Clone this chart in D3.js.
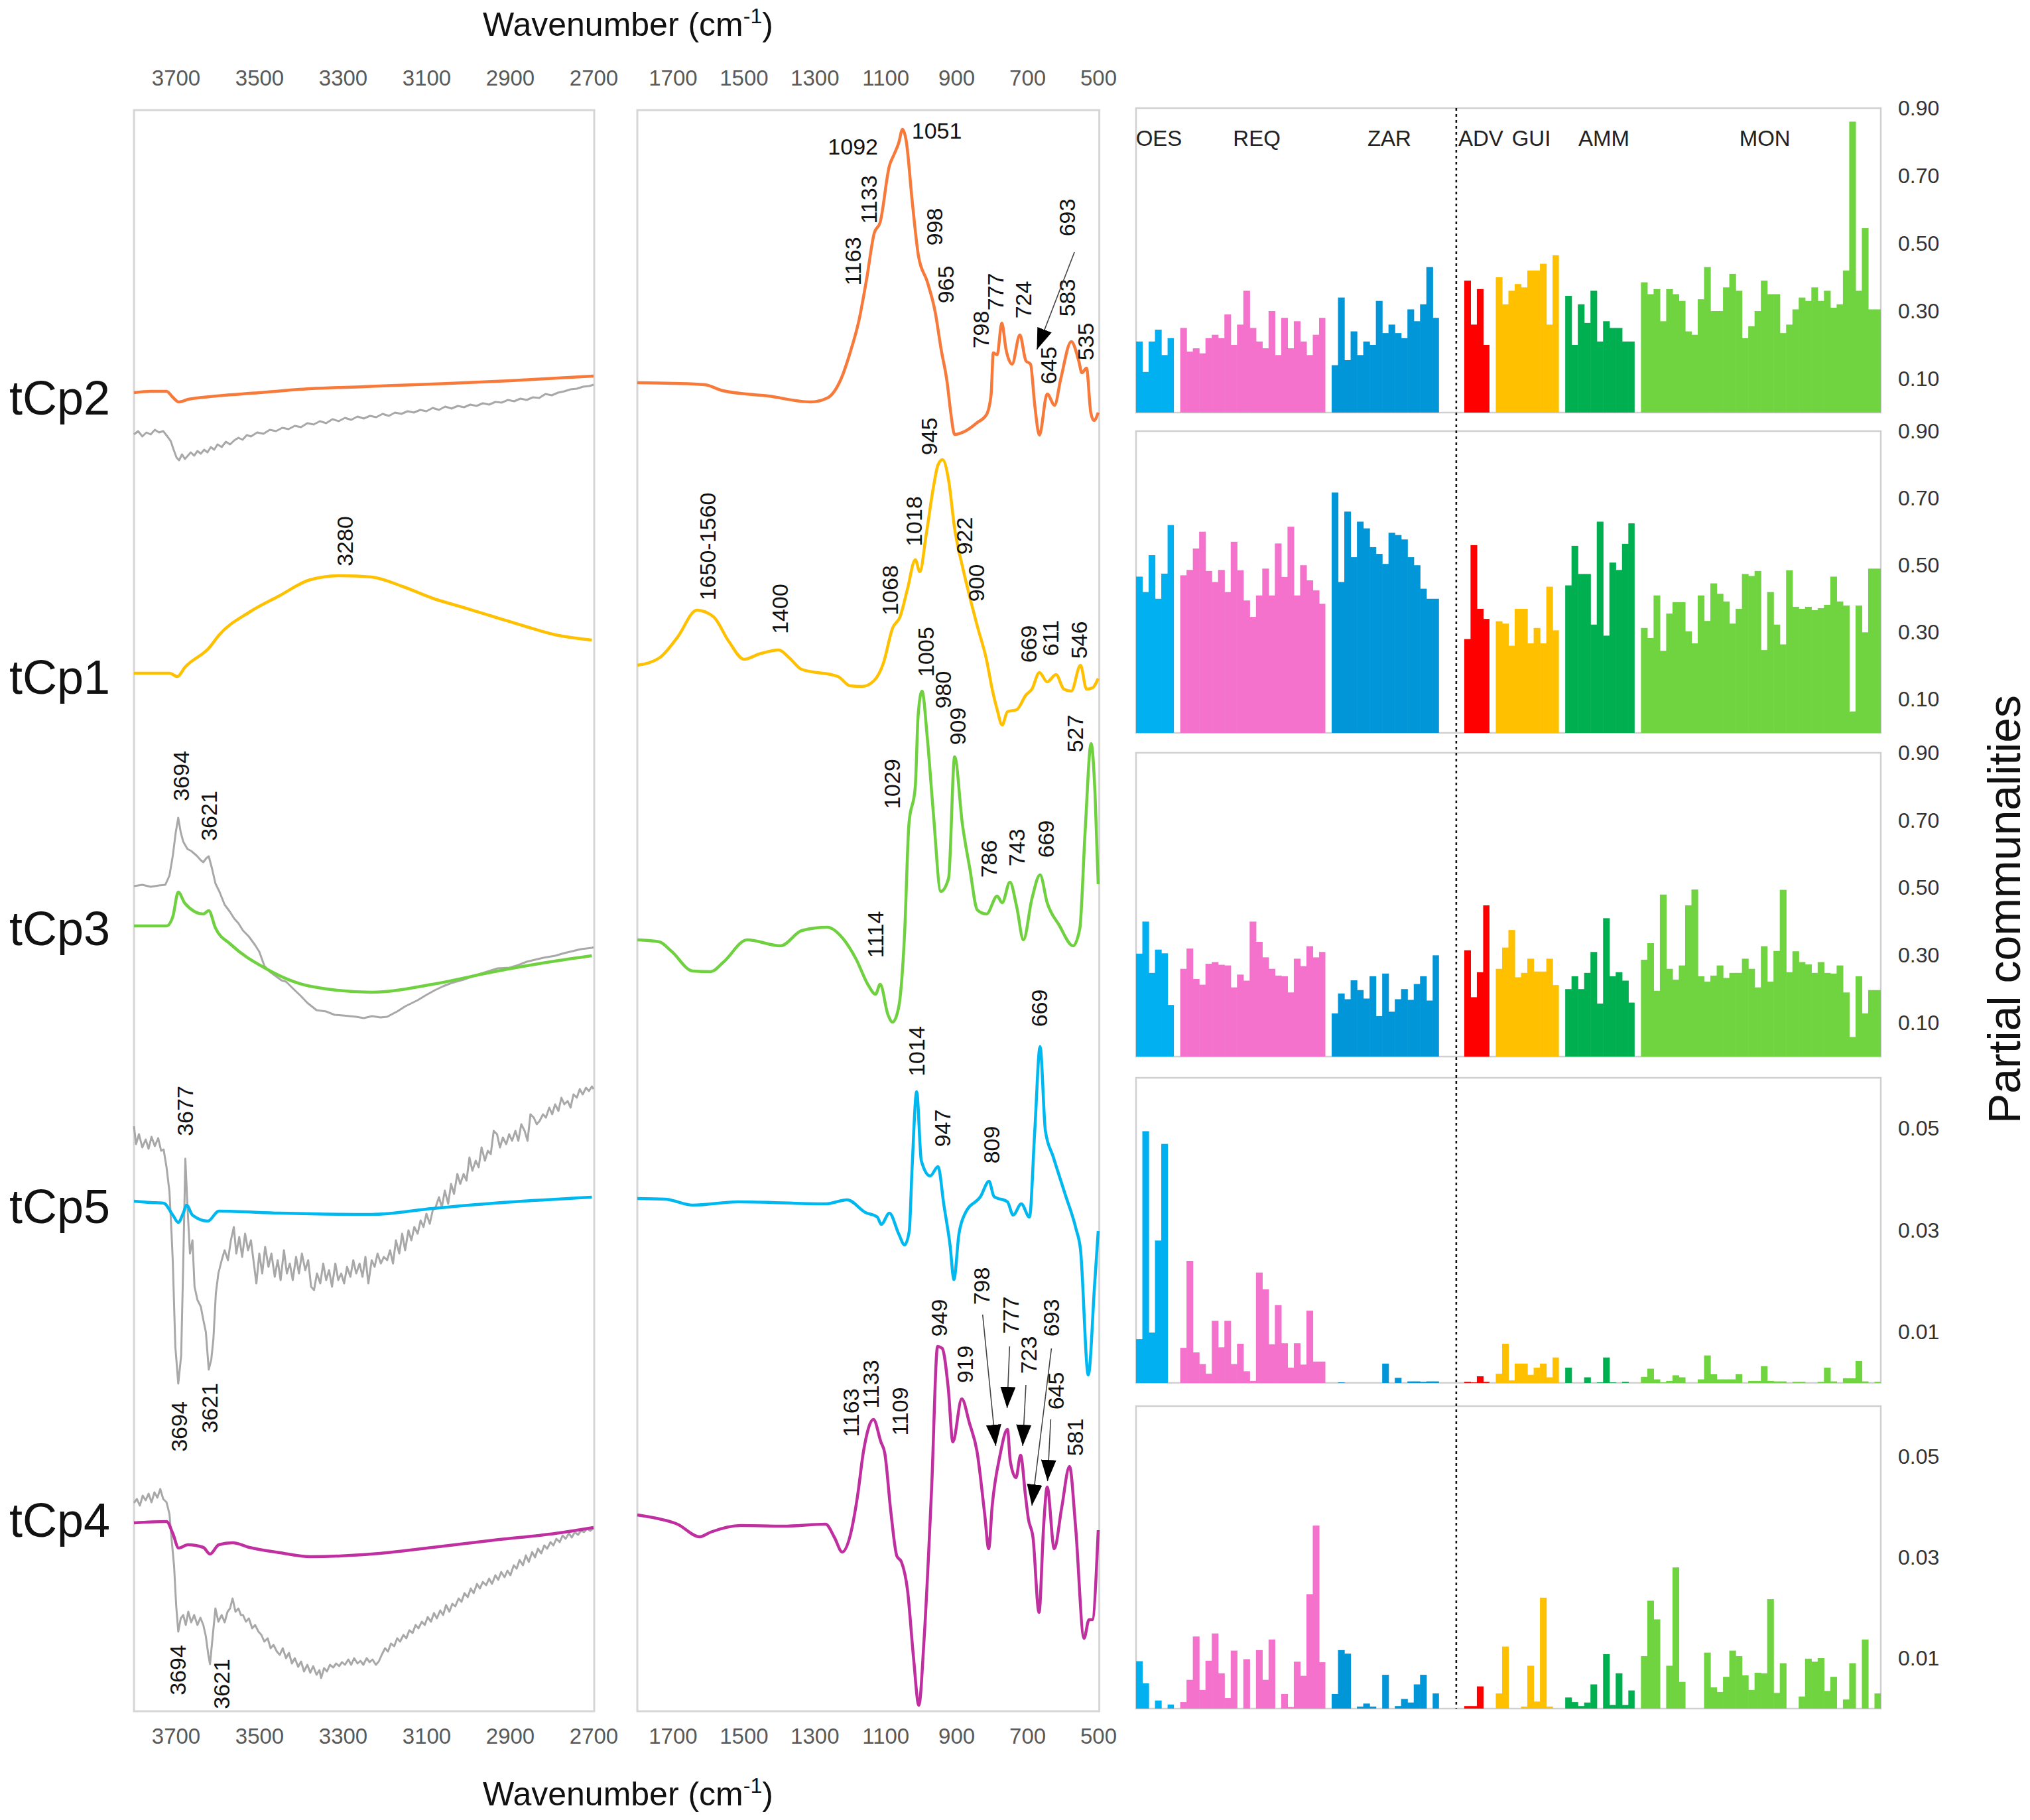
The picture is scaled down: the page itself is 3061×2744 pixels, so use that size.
<!DOCTYPE html>
<html><head><meta charset="utf-8">
<script src="https://cdn.jsdelivr.net/npm/d3@7"></script>
<style>body{margin:0;background:#fff}svg{display:block}</style>
</head><body>
<svg id="chart" width="3061" height="2744"></svg>
<script>
// ---------------- DATA ----------------
const rowNames = ["tCp2", "tCp1", "tCp3", "tCp5", "tCp4"];
const rowColors = ["#F77A3A", "#FFC000", "#6FD13F", "#00B8F0", "#BF2FA0"];
const ticksLeft = [3700, 3500, 3300, 3100, 2900, 2700];
const ticksRight = [1700, 1500, 1300, 1100, 900, 700, 500];

// high wavenumber region (3800-2700), [wavenumber, intensity a.u.]
const tCp2High = [[3800,19.88],[3760,19.9],[3722,19.9],[3707,19.81],[3693,19.74],[3670,19.78],[3634,19.81],[3500,19.88],[3378,19.94],[3250,19.97],[3085,20.01],[2900,20.06],[2700,20.13]];
const tCp1High = [[3800,15.65],[3715,15.65],[3696,15.6],[3678,15.74],[3619,16.04],[3597,16.22],[3524,16.57],[3451,16.82],[3378,17.06],[3304,17.12],[3231,17.1],[3158,16.96],[3085,16.78],[3011,16.64],[2938,16.5],[2865,16.36],[2792,16.23],[2704,16.15]];
const tCp3High = [[3800,11.84],[3722,11.84],[3707,11.98],[3694,12.35],[3678,12.18],[3634,12.02],[3621,12.07],[3605,11.81],[3568,11.56],[3488,11.21],[3378,10.93],[3231,10.84],[3085,10.96],[2938,11.15],[2792,11.31],[2704,11.39]];
const tCp5High = [[3800,7.69],[3760,7.67],[3729,7.66],[3707,7.48],[3694,7.37],[3682,7.51],[3674,7.63],[3660,7.48],[3623,7.39],[3597,7.54],[3451,7.51],[3231,7.49],[3085,7.58],[2938,7.66],[2704,7.75]];
const tCp4High = [[3800,2.84],[3722,2.86],[3707,2.68],[3693,2.46],[3671,2.51],[3634,2.47],[3618,2.37],[3597,2.51],[3564,2.54],[3524,2.47],[3451,2.39],[3378,2.33],[3231,2.37],[3085,2.47],[2938,2.58],[2792,2.68],[2700,2.77]];

// grey reference spectra (high wavenumber region)
const grey2 = [[3800,19.25],[3790,19.3],[3780,19.22],[3770,19.28],[3760,19.25],[3750,19.32],[3740,19.28],[3730,19.3],[3720,19.22],[3712,19.15],[3705,19.02],[3698,18.9],[3692,18.86],[3685,18.95],[3678,18.88],[3671,18.93],[3664,18.98],[3656,18.93],[3648,19.0],[3640,18.96],[3632,19.02],[3624,18.98],[3616,19.06],[3608,19.02],[3600,19.1],[3590,19.06],[3580,19.14],[3570,19.1],[3560,19.16],[3550,19.2],[3540,19.17],[3530,19.24],[3520,19.22],[3505,19.28],[3490,19.26],[3475,19.32],[3460,19.3],[3445,19.35],[3430,19.33],[3415,19.38],[3400,19.36],[3385,19.42],[3370,19.4],[3355,19.45],[3340,19.42],[3325,19.48],[3310,19.45],[3295,19.5],[3280,19.47],[3265,19.52],[3250,19.49],[3235,19.53],[3220,19.51],[3205,19.56],[3190,19.53],[3175,19.58],[3160,19.56],[3145,19.6],[3130,19.58],[3115,19.62],[3100,19.6],[3085,19.65],[3070,19.62],[3055,19.67],[3040,19.64],[3025,19.68],[3010,19.66],[2995,19.7],[2980,19.68],[2965,19.72],[2950,19.7],[2935,19.74],[2920,19.73],[2905,19.77],[2890,19.75],[2875,19.79],[2860,19.77],[2845,19.81],[2830,19.8],[2815,19.86],[2800,19.84],[2785,19.88],[2770,19.9],[2755,19.93],[2740,19.94],[2725,19.97],[2710,19.98],[2700,20.0]];
const grey3 = [[3800,12.44],[3780,12.46],[3760,12.43],[3740,12.45],[3725,12.46],[3715,12.6],[3707,12.9],[3700,13.25],[3694,13.47],[3688,13.25],[3682,13.11],[3672,13.0],[3663,12.97],[3650,12.9],[3640,12.83],[3634,12.8],[3627,12.86],[3621,12.89],[3613,12.7],[3605,12.48],[3595,12.35],[3583,12.16],[3570,12.05],[3560,11.95],[3550,11.88],[3539,11.77],[3525,11.68],[3510,11.55],[3500,11.45],[3488,11.24],[3475,11.15],[3460,11.08],[3447,11.02],[3436,11.0],[3420,10.9],[3400,10.78],[3385,10.68],[3363,10.57],[3340,10.55],[3320,10.5],[3300,10.49],[3268,10.47],[3250,10.45],[3230,10.48],[3210,10.46],[3194,10.47],[3170,10.55],[3150,10.63],[3121,10.72],[3100,10.8],[3080,10.87],[3060,10.93],[3040,10.98],[3011,11.03],[2990,11.08],[2970,11.12],[2950,11.16],[2930,11.2],[2901,11.21],[2880,11.25],[2860,11.3],[2840,11.33],[2820,11.36],[2792,11.39],[2770,11.43],[2750,11.46],[2730,11.49],[2704,11.51],[2700,11.52]];
const grey5 = [[3800,8.82],[3795,8.55],[3788,8.7],[3780,8.5],[3772,8.62],[3765,8.48],[3758,8.66],[3750,8.52],[3742,8.64],[3735,8.45],[3729,8.47],[3722,8.2],[3715,7.83],[3710,7.2],[3707,6.77],[3701,5.5],[3694,4.94],[3687,5.36],[3682,6.77],[3677,8.33],[3672,7.62],[3666,6.9],[3660,7.1],[3655,6.4],[3648,6.2],[3640,6.1],[3634,5.9],[3628,5.72],[3621,5.15],[3615,5.3],[3610,5.6],[3604,6.3],[3598,6.6],[3590,6.8],[3583,6.95],[3575,6.8],[3568,7.1],[3561,7.3],[3555,6.9],[3548,7.15],[3541,6.85],[3534,7.2],[3527,6.95],[3520,7.1],[3514,6.8],[3507,6.45],[3500,6.9],[3493,6.6],[3486,7.0],[3478,6.7],[3471,6.9],[3463,6.55],[3456,6.8],[3449,6.5],[3441,6.95],[3434,6.6],[3427,6.75],[3420,6.5],[3412,6.85],[3405,6.6],[3398,6.9],[3390,6.65],[3383,6.8],[3376,6.4],[3369,6.35],[3362,6.6],[3354,6.45],[3347,6.75],[3340,6.5],[3333,6.65],[3326,6.4],[3318,6.75],[3311,6.5],[3304,6.6],[3297,6.45],[3290,6.7],[3282,6.55],[3275,6.8],[3268,6.6],[3260,6.75],[3253,6.55],[3246,6.85],[3239,6.45],[3231,6.8],[3224,6.7],[3217,6.9],[3209,6.75],[3202,6.85],[3194,6.8],[3187,6.95],[3180,6.75],[3173,7.1],[3165,6.9],[3158,7.2],[3151,6.95],[3143,7.25],[3136,7.1],[3129,7.3],[3121,7.2],[3114,7.4],[3107,7.3],[3100,7.5],[3092,7.35],[3085,7.55],[3078,7.6],[3070,7.75],[3063,7.6],[3056,7.85],[3048,7.65],[3041,7.95],[3034,7.8],[3026,8.1],[3019,7.95],[3011,8.1],[3004,8.0],[2997,8.35],[2990,8.15],[2982,8.3],[2975,8.2],[2968,8.5],[2960,8.3],[2953,8.45],[2946,8.4],[2939,8.75],[2931,8.7],[2924,8.5],[2917,8.65],[2909,8.55],[2902,8.7],[2895,8.6],[2887,8.75],[2880,8.6],[2873,8.85],[2865,8.75],[2858,8.6],[2851,9.0],[2843,8.95],[2836,8.85],[2829,8.9],[2821,9.0],[2814,8.95],[2806,9.1],[2799,9.0],[2792,9.15],[2784,9.05],[2777,9.25],[2770,9.15],[2762,9.2],[2755,9.1],[2748,9.3],[2740,9.25],[2733,9.38],[2726,9.3],[2718,9.4],[2711,9.35],[2704,9.42],[2700,9.38]];
const grey4 = [[3800,3.14],[3793,3.2],[3786,3.1],[3779,3.25],[3772,3.18],[3765,3.28],[3758,3.15],[3751,3.3],[3744,3.22],[3737,3.35],[3730,3.2],[3722,3.15],[3715,2.97],[3710,2.6],[3704,2.19],[3699,1.6],[3694,1.2],[3688,1.4],[3682,1.45],[3676,1.3],[3670,1.5],[3663,1.34],[3656,1.45],[3648,1.3],[3641,1.41],[3634,1.3],[3628,1.13],[3622,0.85],[3618,0.71],[3612,1.1],[3605,1.55],[3598,1.35],[3590,1.45],[3583,1.34],[3576,1.5],[3570,1.55],[3564,1.7],[3557,1.5],[3550,1.55],[3544,1.45],[3539,1.45],[3532,1.35],[3525,1.4],[3517,1.25],[3510,1.3],[3502,1.2],[3495,1.15],[3488,1.05],[3480,1.1],[3473,0.95],[3466,1.0],[3458,0.9],[3451,0.85],[3444,0.95],[3436,0.8],[3429,0.88],[3422,0.72],[3415,0.8],[3407,0.67],[3400,0.75],[3393,0.6],[3385,0.7],[3378,0.58],[3371,0.68],[3363,0.55],[3356,0.62],[3352,0.5],[3345,0.65],[3338,0.6],[3331,0.7],[3323,0.66],[3316,0.72],[3309,0.68],[3302,0.74],[3295,0.7],[3287,0.78],[3280,0.7],[3273,0.8],[3265,0.72],[3258,0.76],[3251,0.7],[3243,0.8],[3236,0.74],[3229,0.78],[3221,0.7],[3214,0.75],[3207,0.85],[3199,0.95],[3192,0.9],[3185,1.02],[3177,0.98],[3170,1.1],[3163,1.05],[3155,1.15],[3148,1.1],[3141,1.22],[3133,1.18],[3126,1.3],[3119,1.25],[3111,1.35],[3104,1.3],[3097,1.42],[3089,1.35],[3082,1.48],[3075,1.4],[3067,1.52],[3060,1.45],[3053,1.6],[3045,1.5],[3038,1.62],[3031,1.58],[3023,1.7],[3016,1.65],[3009,1.78],[3001,1.72],[2994,1.85],[2987,1.78],[2979,1.92],[2972,1.85],[2965,1.95],[2957,1.9],[2950,2.0],[2943,1.92],[2935,2.05],[2928,1.98],[2921,2.1],[2913,2.02],[2906,2.12],[2899,2.05],[2891,2.2],[2884,2.15],[2877,2.28],[2869,2.2],[2862,2.35],[2855,2.25],[2847,2.4],[2840,2.32],[2833,2.45],[2825,2.38],[2818,2.5],[2811,2.45],[2803,2.55],[2796,2.5],[2789,2.6],[2781,2.55],[2774,2.65],[2767,2.6],[2759,2.68],[2752,2.62],[2745,2.7],[2737,2.66],[2730,2.72],[2723,2.7],[2715,2.75],[2708,2.72],[2700,2.76]];

// fingerprint region (1800-500)
const tCp2Low = [[1800,20.03],[1700,20.02],[1610,20.0],[1559,19.91],[1431,19.83],[1311,19.74],[1264,19.8],[1226,20.08],[1200,20.48],[1174,20.99],[1153,21.6],[1132,22.28],[1115,22.45],[1089,23.3],[1076,23.47],[1063,23.64],[1052,23.85],[1042,23.69],[1024,22.73],[1007,21.94],[982,21.55],[960,21.1],[943,20.53],[926,20.03],[916,19.58],[905,19.25],[875,19.3],[841,19.43],[815,19.55],[802,19.86],[796,20.48],[785,20.45],[772,20.93],[760,20.53],[743,20.31],[721,20.75],[704,20.36],[691,20.31],[679,19.69],[666,19.24],[644,19.86],[623,19.69],[606,20.08],[576,20.65],[555,20.36],[546,20.18],[533,20.25],[521,19.58],[512,19.46],[500,19.58]];
const tCp1Low = [[1800,15.77],[1738,15.88],[1687,16.19],[1632,16.6],[1585,16.5],[1542,16.13],[1499,15.86],[1456,15.94],[1401,16.0],[1371,15.88],[1337,15.71],[1234,15.6],[1200,15.46],[1166,15.45],[1132,15.54],[1106,15.8],[1080,16.33],[1059,16.5],[1038,16.92],[1016,17.36],[1003,17.18],[986,17.71],[965,18.45],[952,18.79],[939,18.87],[922,18.56],[905,17.83],[883,17.26],[867,16.9],[841,16.36],[815,15.85],[798,15.38],[785,15.1],[771,14.87],[756,15.07],[730,15.1],[704,15.32],[687,15.41],[666,15.66],[644,15.52],[619,15.63],[597,15.41],[576,15.38],[550,15.77],[533,15.41],[516,15.43],[500,15.57]];
const tCp3Low = [[1800,11.63],[1738,11.6],[1704,11.46],[1644,11.16],[1593,11.15],[1558,11.29],[1490,11.63],[1396,11.54],[1336,11.77],[1264,11.82],[1217,11.63],[1183,11.34],[1149,10.95],[1128,10.81],[1115,10.96],[1093,10.5],[1080,10.39],[1063,10.61],[1046,11.74],[1034,13.37],[1016,13.94],[1008,15.01],[997,15.38],[982,14.67],[965,13.54],[944,12.36],[922,12.56],[905,14.39],[883,13.37],[862,12.7],[841,12.08],[815,12.02],[785,12.29],[771,12.19],[749,12.5],[730,12.13],[711,11.63],[687,12.25],[664,12.61],[644,12.19],[610,11.85],[571,11.54],[552,11.8],[537,13.26],[520,14.59],[509,13.83],[500,12.47]];
const tCp5Low = [[1800,7.73],[1721,7.72],[1644,7.63],[1516,7.68],[1268,7.65],[1208,7.71],[1157,7.52],[1123,7.45],[1112,7.34],[1089,7.51],[1063,7.2],[1046,7.03],[1033,7.24],[1025,8.19],[1012,9.34],[999,8.3],[974,8.07],[952,8.21],[935,7.62],[918,7.03],[907,6.51],[893,7.19],[875,7.51],[832,7.76],[808,7.99],[794,7.76],[756,7.68],[740,7.48],[717,7.65],[694,7.45],[679,8.75],[664,10.02],[649,8.75],[627,8.36],[593,7.79],[563,7.28],[550,6.96],[528,5.07],[510,6.45],[500,7.24]];
const tCp4Low = [[1800,2.96],[1747,2.91],[1687,2.82],[1624,2.63],[1593,2.7],[1508,2.8],[1388,2.79],[1269,2.82],[1244,2.62],[1222,2.4],[1201,2.62],[1179,3.24],[1162,3.92],[1134,4.4],[1113,4.06],[1102,3.89],[1085,3.01],[1068,2.34],[1055,2.25],[1038,1.83],[1021,0.81],[1006,0.09],[991,1.1],[970,3.35],[953,5.5],[940,5.47],[923,4.87],[910,4.06],[885,4.71],[863,4.34],[842,3.92],[820,2.96],[809,2.45],[799,3.1],[777,3.86],[756,4.25],[748,3.77],[732,3.52],[719,3.86],[705,3.24],[697,2.9],[684,2.62],[667,1.49],[654,2.79],[644,3.38],[624,2.45],[603,3.07],[581,3.69],[564,2.79],[540,1.1],[526,1.38],[517,1.38],[500,2.73]];

// peak labels: [text, wavenumber position, intensity position]
const peakLabelsHigh = [["3280",3295,17.64],["3694",3687,14.1],["3621",3621,13.5],["3677",3678,9.05],["3694",3692,4.29],["3621",3619,4.57],["3694",3695,0.62],["3621",3590,0.41]];
const peakLabelsLow = [["1133",1147,22.79],["1163",1192,21.86],["998",962,22.38],["965",931,21.51],["798",832,20.83],["777",789,21.4],["724",712,21.28],["693",587,22.52],["645",640,20.29],["583",587,21.31],["535",535,20.65],
 ["945",977,19.22],["1018",1020,17.94],["922",878,17.72],["900",845,17.01],["1068",1087,16.9],["1650-1560",1602,17.56],["1400",1397,16.62],["669",696,16.09],["611",634,16.18],["546",554,16.15],
 ["1005",987,15.97],["980",938,15.4],["1029",1082,13.98],["909",897,14.85],["786",809,12.85],["743",731,13.02],["669",647,13.15],["527",565,14.74],["1114",1128,11.71],
 ["1014",1013,9.95],["947",940,8.79],["809",802,8.54],["669",666,10.6],
 ["949",948,5.93],["1163",1197,4.5],["1133",1141,4.93],["1109",1059,4.52],["919",876,5.23],["798",829,6.41],["777",747,5.97],["723",696,5.37],["693",632,5.93],["645",619,4.83],["581",566,4.13]];
const peakLabelsFlat = [["1051",1026,23.83,"start"],["1092",1121,23.59,"end"]];
// arrows: [from wavenumber, from intensity, to wavenumber, to intensity]
const peakArrows = [[567,22.0,673,20.53],[826,5.98,789,4.0],[750,5.5,757,4.57],[704,4.92,713,4.0],[632,5.47,687,3.1],[634,4.4,643,3.47]];

// partial communalities
const barGroups = ["OES", "REQ", "ZAR", "ADV", "GUI", "AMM", "MON"];
const groupSizes = [6, 23, 17, 4, 10, 11, 38];
const groupColors = ["#00B0F0", "#F472CC", "#0096D8", "#FF0000", "#FFC000", "#00B050", "#70D440"];
const commTicksHigh = [0.90, 0.70, 0.50, 0.30, 0.10];
const commTicksLow = [0.05, 0.03, 0.01];
const commTCp2 = [0.21,0.12,0.21,0.245,0.17,0.22,
 0.25,0.18,0.19,0.175,0.22,0.23,0.22,0.29,0.20,0.26,0.36,0.25,0.21,0.19,0.30,0.17,0.28,0.19,0.27,0.21,0.17,0.23,0.28,
 0.14,0.34,0.155,0.24,0.17,0.21,0.20,0.33,0.235,0.26,0.235,0.22,0.305,0.27,0.32,0.43,0.28,
 0.39,0.26,0.365,0.20,
 0.40,0.32,0.36,0.38,0.37,0.42,0.42,0.44,0.26,0.465,
 0.345,0.20,0.32,0.265,0.36,0.21,0.27,0.25,0.25,0.21,0.21,
 0.385,0.35,0.365,0.27,0.365,0.35,0.33,0.24,0.23,0.335,0.43,0.30,0.30,0.37,0.41,0.36,0.22,0.255,0.30,0.39,0.35,0.35,0.235,0.26,0.305,0.34,0.33,0.37,0.33,0.36,0.31,0.32,0.42,0.86,0.36,0.545,0.305,0.305];
const commTCp1 = [0.466,0.42,0.53,0.40,0.475,0.62,
 0.47,0.486,0.55,0.60,0.483,0.45,0.486,0.42,0.57,0.485,0.395,0.346,0.41,0.49,0.41,0.565,0.465,0.615,0.41,0.50,0.455,0.425,0.385,
 0.717,0.45,0.66,0.524,0.63,0.61,0.554,0.534,0.504,0.597,0.59,0.577,0.524,0.50,0.43,0.40,0.40,
 0.28,0.56,0.37,0.34,
 0.333,0.326,0.26,0.37,0.37,0.267,0.313,0.267,0.436,0.306,
 0.44,0.558,0.474,0.474,0.323,0.63,0.29,0.508,0.486,0.564,0.625,
 0.313,0.283,0.41,0.245,0.356,0.39,0.39,0.303,0.267,0.41,0.334,0.446,0.415,0.392,0.326,0.37,0.474,0.468,0.483,0.247,0.42,0.323,0.264,0.485,0.376,0.37,0.376,0.366,0.372,0.382,0.466,0.392,0.38,0.064,0.38,0.30,0.49,0.49];
const commTCp3 = [0.305,0.40,0.248,0.317,0.306,0.153,
 0.26,0.32,0.23,0.213,0.275,0.28,0.272,0.27,0.205,0.243,0.225,0.40,0.34,0.294,0.26,0.24,0.238,0.19,0.29,0.268,0.327,0.294,0.31,
 0.128,0.187,0.17,0.226,0.197,0.172,0.238,0.12,0.246,0.133,0.17,0.20,0.168,0.215,0.238,0.166,0.30,
 0.315,0.176,0.25,0.448,
 0.26,0.323,0.375,0.235,0.248,0.29,0.252,0.252,0.29,0.212,
 0.20,0.238,0.20,0.248,0.31,0.157,0.41,0.238,0.25,0.225,0.16,
 0.287,0.336,0.195,0.48,0.26,0.228,0.27,0.448,0.495,0.238,0.222,0.24,0.27,0.233,0.248,0.248,0.29,0.26,0.205,0.327,0.222,0.313,0.494,0.25,0.312,0.28,0.273,0.248,0.28,0.248,0.246,0.27,0.19,0.058,0.238,0.128,0.197,0.197];
const commTCp5 = [0.0086,0.0495,0.0099,0.028,0.047,0,
 0.0069,0.024,0.006,0.0037,0.0018,0.0122,0.007,0.0122,0.0037,0.0077,0.0023,0.0004,0.0217,0.0184,0.0076,0.0153,0.0078,0.003,0.0078,0.0036,0.0142,0.0042,0.0042,
 0,0.0001,0,0,0,0,0,0,0.0038,0,0.001,0,0.0003,0.0003,0.0002,0.0003,0.0003,
 0.0002,0.0001,0.0013,0.0002,
 0.0018,0.0077,0.0005,0.0038,0.0038,0.0016,0.003,0.0038,0.0011,0.005,
 0.003,0,0,0.0011,0,0.0001,0.005,0.0001,0,0.0002,0,
 0.0012,0.0028,0.0007,0.0001,0.0004,0.0015,0.0011,0,0,0.0007,0.0054,0.0017,0.0007,0.0007,0.0007,0.0017,0,0.0004,0.0004,0.0033,0.0004,0.0003,0.0003,0,0.0002,0.0002,0,0,0.0002,0.003,0.0003,0,0.0009,0.0009,0.0043,0.0003,0,0.0002];
const commTCp4 = [0.0094,0.005,0,0.0016,0,0.0008,
 0.0013,0.0057,0.0143,0.0037,0.0095,0.0149,0.007,0.0021,0.0115,0,0.0098,0,0.0116,0.0057,0.0137,0,0.0029,0.0003,0.0093,0.0065,0.0227,0.0363,0.0092,
 0.0029,0.0116,0.0109,0,0.0004,0.001,0.0004,0,0.0067,0,0.0005,0.0019,0.0012,0.0048,0.0067,0,0.003,
 0.0005,0.0005,0.0044,0,
 0.003,0.0123,0,0,0.0004,0.0085,0.0014,0.022,0.0004,0,
 0.0022,0.0013,0.0005,0.0012,0.0048,0,0.0108,0.0007,0.007,0.0007,0.0036,
 0.0104,0.0214,0.0177,0,0.0085,0.028,0.0053,0,0,0,0.0111,0.0042,0.0033,0.0063,0.0115,0.0104,0.0066,0.0037,0.0071,0.007,0.0217,0.0031,0.009,0,0,0.0024,0.0099,0.0093,0.01,0.0035,0.0063,0,0.0018,0.009,0,0.0137,0,0.003];

// ---------------- DRAWING ----------------
const FONT = "'Liberation Sans', Arial, Helvetica, sans-serif";
const svg = d3.select("#chart");
svg.append("rect").attr("width", 3061).attr("height", 2744).attr("fill", "#fff");

const specTop = 166, specBottom = 2580;
const xL = d3.scaleLinear().domain([3800, 2700]).range([202, 895]);
const xR = d3.scaleLinear().domain([1800, 500]).range([961, 1656]);
const yS = d3.scaleLinear().domain([0, 24.14]).range([specBottom, specTop]);

// frames
svg.append("rect").attr("x", xL(3800)).attr("y", specTop).attr("width", xL(2700) - xL(3800) + 1)
  .attr("height", specBottom - specTop).attr("fill", "none").attr("stroke", "#d6d6d6").attr("stroke-width", 3);
svg.append("rect").attr("x", xR(1800)).attr("y", specTop).attr("width", xR(497) - xR(1800))
  .attr("height", specBottom - specTop).attr("fill", "none").attr("stroke", "#d6d6d6").attr("stroke-width", 3);

// axes (labels only)
function styleAxis(g) {
  g.select(".domain").remove();
  g.selectAll(".tick line").remove();
  g.selectAll(".tick text").attr("font-family", FONT).attr("font-size", 33).attr("fill", "#595959");
}
const fmtWn = d3.format("d");
svg.append("g").attr("transform", `translate(0,${specTop - 37})`).call(d3.axisTop(xL).tickValues(ticksLeft).tickFormat(fmtWn).tickSize(0).tickPadding(0)).call(styleAxis);
svg.append("g").attr("transform", `translate(0,${specTop - 37})`).call(d3.axisTop(xR).tickValues(ticksRight).tickFormat(fmtWn).tickSize(0).tickPadding(0)).call(styleAxis);
svg.append("g").attr("transform", `translate(0,${specBottom + 26})`).call(d3.axisBottom(xL).tickValues(ticksLeft).tickFormat(fmtWn).tickSize(0).tickPadding(0)).call(styleAxis);
svg.append("g").attr("transform", `translate(0,${specBottom + 26})`).call(d3.axisBottom(xR).tickValues(ticksRight).tickFormat(fmtWn).tickSize(0).tickPadding(0)).call(styleAxis);

function axisTitle(y) {
  const t = svg.append("text").attr("x", 947).attr("y", y).attr("text-anchor", "middle")
    .attr("font-family", FONT).attr("font-size", 50).attr("fill", "#111");
  t.append("tspan").text("Wavenumber (cm");
  t.append("tspan").attr("dy", -19).attr("font-size", 32).text("-1");
  t.append("tspan").attr("dy", 19).text(")");
}
axisTitle(54);
axisTitle(2722);

// curves
const lineL = d3.line().x(d => xL(d[0])).y(d => yS(d[1]));
const lineR = d3.line().x(d => xR(d[0])).y(d => yS(d[1])).curve(d3.curveMonotoneX);
const lineLs = d3.line().x(d => xL(d[0])).y(d => yS(d[1])).curve(d3.curveMonotoneX);

[grey2, grey3, grey5, grey4].forEach(g => {
  svg.append("path").datum(g).attr("d", lineL).attr("fill", "none").attr("stroke", "#a8a8a8").attr("stroke-width", 3).attr("stroke-linejoin", "round");
});
const highs = [tCp2High, tCp1High, tCp3High, tCp5High, tCp4High];
const lows = [tCp2Low, tCp1Low, tCp3Low, tCp5Low, tCp4Low];
highs.forEach((h, i) => {
  svg.append("path").datum(h).attr("d", lineLs).attr("fill", "none").attr("stroke", rowColors[i]).attr("stroke-width", 4.5).attr("stroke-linejoin", "round");
});
lows.forEach((h, i) => {
  svg.append("path").datum(h).attr("d", lineR).attr("fill", "none").attr("stroke", rowColors[i]).attr("stroke-width", 4.5).attr("stroke-linejoin", "round");
});

// row labels
const rowLabelIntensity = [19.8, 15.59, 11.8, 7.61, 2.88];
rowNames.forEach((n, i) => {
  svg.append("text").attr("x", 14).attr("y", yS(rowLabelIntensity[i])).attr("dominant-baseline", "central")
    .attr("font-family", FONT).attr("font-size", 72).attr("fill", "#111").text(n);
});

// peak labels
function vlabel(xs, d) {
  svg.append("text").attr("transform", `translate(${xs(d[1])},${yS(d[2])}) rotate(-90)`)
    .attr("text-anchor", "middle").attr("dominant-baseline", "central")
    .attr("font-family", FONT).attr("font-size", 34).attr("fill", "#111").text(d[0]);
}
peakLabelsHigh.forEach(d => vlabel(xL, d));
peakLabelsLow.forEach(d => vlabel(xR, d));
peakLabelsFlat.forEach(d => {
  svg.append("text").attr("x", xR(d[1])).attr("y", yS(d[2])).attr("text-anchor", d[3]).attr("dominant-baseline", "central")
    .attr("font-family", FONT).attr("font-size", 34).attr("fill", "#111").text(d[0]);
});
svg.append("defs").append("marker").attr("id", "ah").attr("markerUnits", "userSpaceOnUse")
  .attr("viewBox", "0 0 10 10").attr("preserveAspectRatio", "none").attr("refX", 10).attr("refY", 5)
  .attr("markerWidth", 32).attr("markerHeight", 23)
  .attr("orient", "auto").append("path").attr("d", "M0,0 L10,5 L0,10 Z").attr("fill", "#000");
peakArrows.forEach(a => {
  svg.append("line").attr("x1", xR(a[0])).attr("y1", yS(a[1])).attr("x2", xR(a[2])).attr("y2", yS(a[3]))
    .attr("stroke", "#444").attr("stroke-width", 1.6).attr("marker-end", "url(#ah)");
});

// ---------- bar panels ----------
const gapAfter = [1, 1, 4, 1, 1, 1, 0];
const slots = [];
barGroups.forEach((g, gi) => {
  for (let i = 0; i < groupSizes[gi]; i++) slots.push(g + "_" + i);
  for (let j = 0; j < gapAfter[gi]; j++) slots.push("gap_" + g + "_" + j);
});
const xB = d3.scaleBand().domain(slots).range([1713, 2836]).paddingInner(0).paddingOuter(0);
const panelTops = [163, 650, 1135, 1625, 2120];
const panelBottoms = [622, 1105, 1593, 2085, 2576];
const panelMax = [0.9, 0.9, 0.9, 0.06, 0.06];
const panelData = [commTCp2, commTCp1, commTCp3, commTCp5, commTCp4];
const panelTicks = [commTicksHigh, commTicksHigh, commTicksHigh, commTicksLow, commTicksLow];

panelData.forEach((vals, p) => {
  const y = d3.scaleLinear().domain([0, panelMax[p]]).range([panelBottoms[p], panelTops[p]]);
  const g = svg.append("g");
  g.append("rect").attr("x", 1713).attr("y", panelTops[p]).attr("width", 2836 - 1713).attr("height", panelBottoms[p] - panelTops[p])
    .attr("fill", "none").attr("stroke", "#d0d0d0").attr("stroke-width", 2.5);
  let k = 0;
  barGroups.forEach((grp, gi) => {
    for (let i = 0; i < groupSizes[gi]; i++, k++) {
      const v = vals[k];
      g.append("rect").attr("x", xB(grp + "_" + i)).attr("width", xB.bandwidth() + (i < groupSizes[gi] - 1 ? 0.6 : 0))
        .attr("y", y(v)).attr("height", Math.max(0, y(0) - y(v))).attr("fill", groupColors[gi]);
    }
  });
  const ax = g.append("g").attr("transform", `translate(2862,0)`)
    .call(d3.axisRight(y).tickValues(panelTicks[p]).tickFormat(d3.format(".2f")).tickSize(0).tickPadding(0));
  ax.select(".domain").remove();
  ax.selectAll(".tick text").attr("font-family", FONT).attr("font-size", 32).attr("fill", "#333");
});

// group labels on first panel
barGroups.forEach((grp, gi) => {
  const first = xB(grp + "_0");
  const last = xB(grp + "_" + (groupSizes[gi] - 1)) + xB.bandwidth();
  svg.append("text").attr("x", (first + last) / 2 + 6).attr("y", 220).attr("text-anchor", "middle")
    .attr("font-family", FONT).attr("font-size", 33).attr("fill", "#222").text(grp);
});

// dotted divider
const divX = xB("ADV_0") - 12;
svg.append("line").attr("x1", divX).attr("x2", divX).attr("y1", panelTops[0]).attr("y2", panelBottoms[4])
  .attr("stroke", "#111").attr("stroke-width", 2.5).attr("stroke-dasharray", "4,5");

// y title
svg.append("text").attr("transform", `translate(3022,1371) rotate(-90)`).attr("text-anchor", "middle")
  .attr("dominant-baseline", "central").attr("font-family", FONT).attr("font-size", 68).attr("fill", "#111")
  .text("Partial communalities");
</script>
</body></html>
